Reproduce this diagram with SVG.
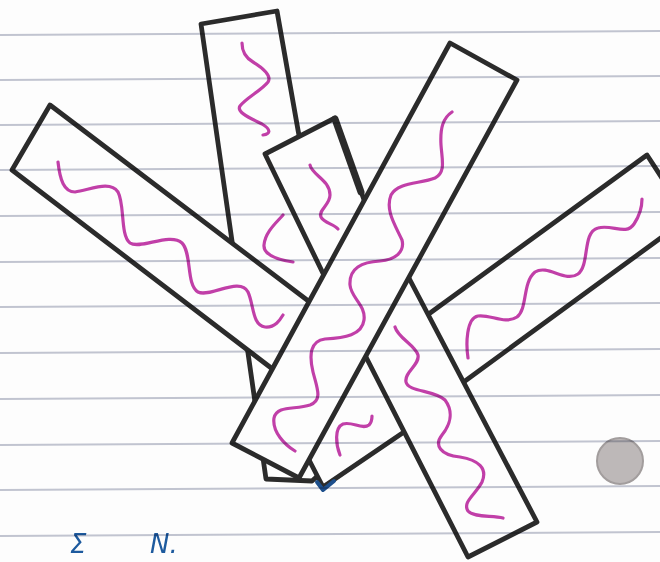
<svg xmlns="http://www.w3.org/2000/svg" width="660" height="562" viewBox="0 0 660 562">
<style>
.paper{fill:#fdfdfd}
.rule{stroke:#c3c6d2;stroke-width:2;fill:none}
.rules{mix-blend-mode:multiply}
.stick{fill:#fdfdfd;stroke:#2b2b2b;stroke-width:4.8;stroke-linejoin:round}
.thick{fill:none;stroke:#2b2b2b;stroke-width:7;stroke-linecap:round}
.wig{fill:none;stroke:#c13fa8;stroke-width:3.2;stroke-linecap:round;stroke-linejoin:round}
.ink{fill:none;stroke:#1d4f8c;stroke-width:4;stroke-linecap:round;stroke-linejoin:round}
.hand{font-family:"DejaVu Sans",sans-serif;font-size:26px;font-style:italic;fill:#1d5a9e}
</style>
<rect class="paper" x="0" y="0" width="660" height="562"/>

<g id="stick-a">
<polygon class="stick" points="201,24 277,11 298,130 330,300 335,460 312,481 266,479"/>
<path class="wig" d="M242,43 C242,52 246,58 253,62 C263,68 272,76 268,82 C262,90 246,98 240,106 C236,112 250,118 262,124 C272,130 270,134 263,135"/>
<path class="wig" d="M283,215 C277,222 265,232 264,245 C263,256 280,260 293,262"/>
</g>

<g id="stick-b">
<polygon class="stick" points="50,105 340,325 300,390 12,170"/>
<path class="wig" d="M58,162 C60,180 64,192 75,192 C90,190 110,180 118,192 C125,205 120,235 130,243 C140,250 170,232 182,243 C192,253 186,285 198,292 C210,298 240,276 248,292 C254,305 252,325 265,327 C275,328 280,320 283,315"/>
</g>

<g id="stick-c">
<polygon class="stick" points="265,154 335,118 380,245 335,298"/>
<line class="thick" x1="335" y1="119" x2="361" y2="192"/>
<path class="wig" d="M310,165 C312,175 330,180 330,195 C330,205 318,210 321,217 C324,223 334,224 338,229"/>
</g>

<g id="stick-g">
<polygon class="stick" points="290,423 390,330 404,432 323,487"/>
<path class="wig" d="M340,455 C336,445 334,428 343,424 C352,421 362,430 369,425 C372,422 372,418 372,416"/>
</g>

<g id="stick-f">
<polygon class="stick" points="415,324 647,155 688,218 450,392"/>
<path class="wig" d="M468,358 C466,345 466,318 478,316 C490,314 505,325 517,317 C528,308 522,283 535,272 C548,264 565,283 578,274 C590,265 582,232 598,228 C612,224 626,236 634,224 C640,215 642,205 642,199"/>
</g>

<g id="stick-e">
<polygon class="stick" points="342,310 400,261 537,522 468,557"/>
<path class="wig" d="M395,327 C398,338 415,345 418,355 C420,365 404,372 406,382 C408,392 435,390 445,400 C454,412 450,425 442,435 C434,445 440,455 460,457 C478,460 488,468 482,482 C476,494 462,502 468,511 C474,518 493,515 503,518"/>
</g>

<g id="stick-d">
<polygon class="stick" points="450,43 517,80 299,478 232,443"/>
<path class="wig" d="M452,112 C443,118 440,128 441,145 C442,160 446,172 435,178 C420,184 398,182 391,195 C385,210 395,225 402,240 C405,252 395,260 380,261 C362,262 349,268 350,285 C351,298 366,305 364,320 C362,335 345,338 325,339 C310,341 309,355 313,372 C317,388 323,400 310,405 C295,410 277,405 274,418 C272,432 285,445 295,451"/>
</g>

<g id="marks">
<path class="ink" d="M317,482 L323,490 L334,481"/>
<circle cx="620" cy="461" r="23" fill="#bdb8b8" stroke="#a29d9d" stroke-width="2"/>
<text class="hand" x="70" y="553">Σ</text>
<text class="hand" x="150" y="553">N.</text>
</g>

<g class="rules">
<line class="rule" x1="0" y1="35" x2="660" y2="31"/>
<line class="rule" x1="0" y1="80" x2="660" y2="76"/>
<line class="rule" x1="0" y1="125" x2="660" y2="121"/>
<line class="rule" x1="0" y1="170" x2="660" y2="166"/>
<line class="rule" x1="0" y1="216" x2="660" y2="212"/>
<line class="rule" x1="0" y1="262" x2="660" y2="258"/>
<line class="rule" x1="0" y1="307" x2="660" y2="303"/>
<line class="rule" x1="0" y1="353" x2="660" y2="349"/>
<line class="rule" x1="0" y1="399" x2="660" y2="395"/>
<line class="rule" x1="0" y1="445" x2="660" y2="441"/>
<line class="rule" x1="0" y1="490" x2="660" y2="486"/>
<line class="rule" x1="0" y1="536" x2="660" y2="532"/>
</g>
</svg>
